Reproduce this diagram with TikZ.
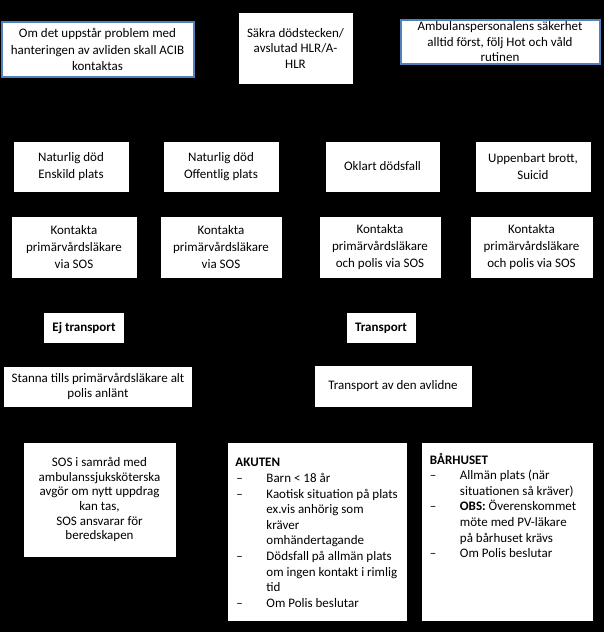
\documentclass[tikz,border=0pt]{standalone}
\usepackage{fontspec}
\setmainfont{Carlito}
\definecolor{boxblue}{HTML}{4F81BD}
\tikzset{
  box/.style={draw=black, fill=white, line width=0.5pt, inner sep=0pt, align=center,
    font=\fontsize{13}{16.5}\selectfont},
  bluebox/.style={box, draw=boxblue, line width=2pt},
  listtext/.style={inner sep=0pt, align=left, anchor=north west,
    font=\fontsize{13}{15.6}\selectfont},
}
\newcommand{\li}[1]{\makebox[31pt][l]{\hspace{1pt}–}#1}
\newcommand{\lc}[1]{\hspace*{31pt}#1}
\begin{document}
\begin{tikzpicture}[x=1pt,y=-1pt]
\fill[black] (0,0) rectangle (604,632);
\useasboundingbox (0,0) rectangle (604,632);

% top row
\node[bluebox, minimum width=192pt, minimum height=55pt] (acib) at (97.5,49.5)
  {Om det uppstår problem med\\hanteringen av avliden skall ACIB\\kontaktas};
\node[box, minimum width=115pt, minimum height=72pt, font=\fontsize{13}{15.5}\selectfont] (sakra) at (295.5,48)
  {Säkra dödstecken/\\avslutad HLR/A-\\HLR};
\node[bluebox, minimum width=199pt, minimum height=44pt, font=\fontsize{13}{15.5}\selectfont] (amb) at (500,42)
  {Ambulanspersonalens säkerhet\\alltid först, följ Hot och våld\\rutinen};

% category row
\node[box, minimum width=116pt, minimum height=51pt] (n1) at (71,166.5) {Naturlig död\\Enskild plats};
\node[box, minimum width=116pt, minimum height=51pt] (n2) at (221,166.5) {Naturlig död\\Offentlig plats};
\node[box, minimum width=115pt, minimum height=51pt] (n3) at (382.5,166.5) {Oklart dödsfall};
\node[box, minimum width=116pt, minimum height=51pt] (n4) at (533,166.5) {Uppenbart brott,\\Suicid};

% contact row
\node[box, minimum width=126pt, minimum height=62pt, font=\fontsize{13}{17}\selectfont] (k1) at (74,247)
  {Kontakta\\primärvårdsläkare\\via SOS};
\node[box, minimum width=122pt, minimum height=62pt, font=\fontsize{13}{17}\selectfont] (k2) at (221,247)
  {Kontakta\\primärvårdsläkare\\via SOS};
\node[box, minimum width=122pt, minimum height=62pt, font=\fontsize{13}{17}\selectfont] (k3) at (380,247)
  {Kontakta\\primärvårdsläkare\\och polis via SOS};
\node[box, minimum width=123pt, minimum height=62pt, font=\fontsize{13}{17}\selectfont] (k4) at (531.5,247)
  {Kontakta\\primärvårdsläkare\\och polis via SOS};

% transport decision
\node[box, minimum width=81pt, minimum height=31pt, font=\fontsize{13}{16}\bfseries] (ej) at (84,328) {Ej transport};
\node[box, minimum width=70pt, minimum height=31pt, font=\fontsize{13}{16}\bfseries] (tr) at (381,328) {Transport};

\node[box, minimum width=189pt, minimum height=41pt, font=\fontsize{13}{15}\selectfont] (stanna) at (98,386.5)
  {Stanna tills primärvårdsläkare alt\\polis anlänt};
\node[box, minimum width=158pt, minimum height=42pt] (trav) at (393,386.5) {Transport av den avlidne};

% bottom row
\node[box, minimum width=153pt, minimum height=115pt, font=\fontsize{13}{14.7}\selectfont] (sos) at (99.5,499.5)
  {SOS i samråd med\\ambulanssjuksköterska\\avgör om nytt uppdrag\\kan tas,\\SOS ansvarar för\\beredskapen};

\node[box, minimum width=180pt, minimum height=179pt] (akuten) at (317.5,531.5) {};
\node[listtext] (akutentext) at ([xshift=8pt,yshift=-16.5pt]akuten.north west)
  {\textbf{AKUTEN}\\
   \li{Barn < 18 år}\\
   \li{Kaotisk situation på plats}\\
   \lc{ex.vis anhörig som}\\
   \lc{kräver}\\
   \lc{omhändertagande}\\
   \li{Dödsfall på allmän plats}\\
   \lc{om ingen kontakt i rimlig}\\
   \lc{tid}\\
   \li{Om Polis beslutar}};

\node[box, minimum width=172pt, minimum height=179pt] (barhus) at (507,531.5) {};
\node[listtext] (barhustext) at ([xshift=9pt,yshift=-11pt]barhus.north west)
  {\textbf{BÅRHUSET}\\
   \makebox[30pt][l]{–}Allmän plats (när\\
   \hspace*{30pt}situationen så kräver)\\
   \makebox[30pt][l]{–}\textbf{OBS:} Överenskommet\\
   \hspace*{30pt}möte med PV-läkare\\
   \hspace*{30pt}på bårhuset krävs\\
   \makebox[30pt][l]{–}Om Polis beslutar};
\end{tikzpicture}
\end{document}
